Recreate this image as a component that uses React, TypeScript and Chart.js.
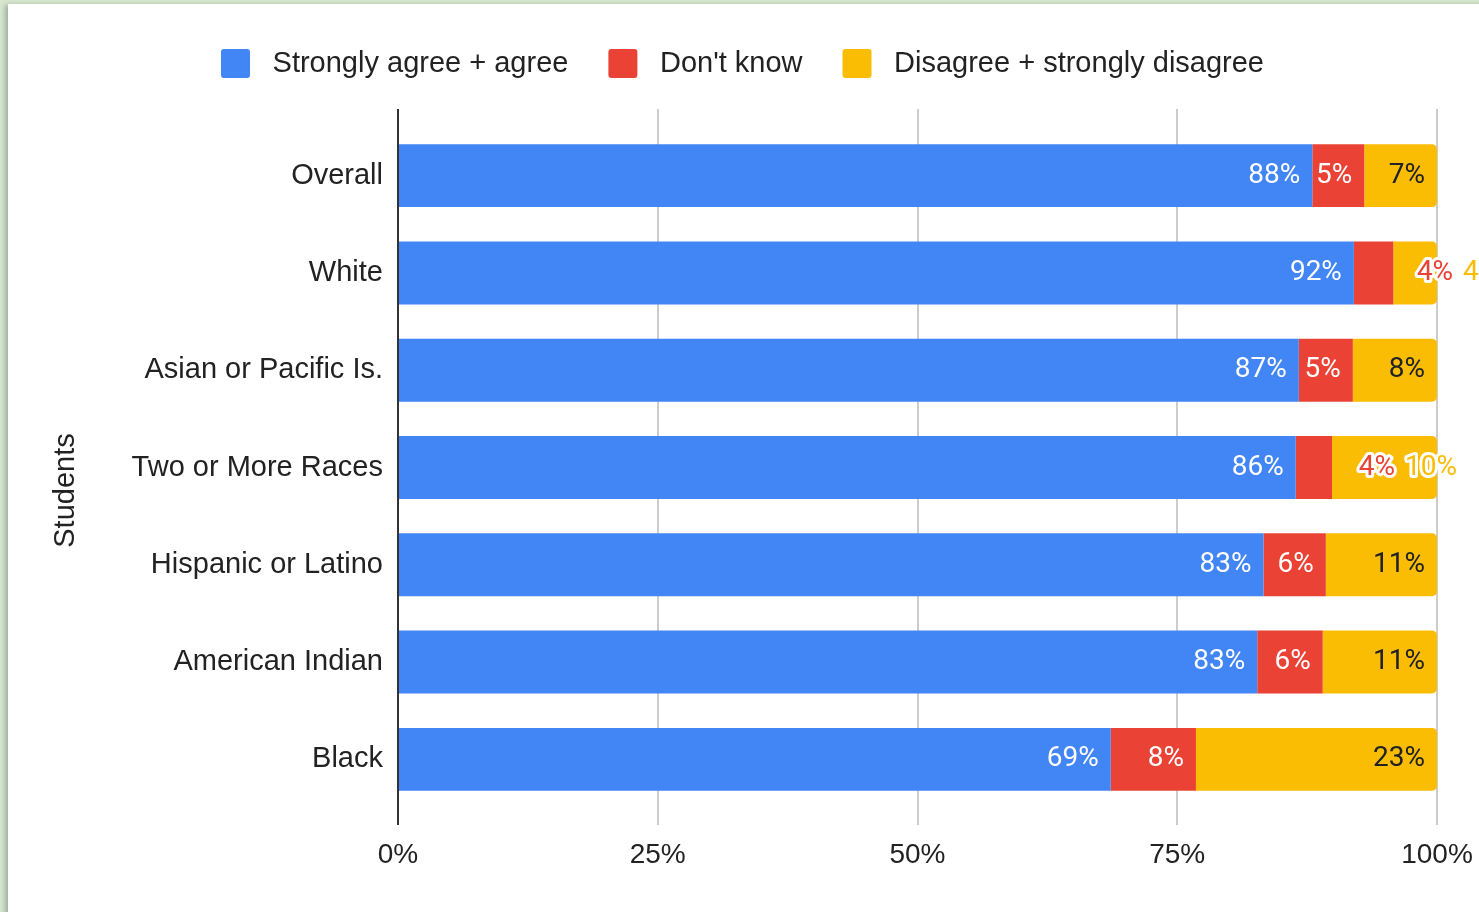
import React, { useEffect, useRef } from 'react';
import { Chart, registerables } from 'chart.js';

Chart.register(...registerables);

const categories = [
  'Overall',
  'White',
  'Asian or Pacific Is.',
  'Two or More Races',
  'Hispanic or Latino',
  'American Indian',
  'Black',
];
const agree = [88, 92, 86.7, 86.4, 83.3, 82.7, 68.6];
const dontKnow = [5, 3.8, 5.2, 3.5, 6.0, 6.3, 8.2];
const disagree = [7, 4.2, 8.1, 10.1, 10.7, 11.0, 23.2];
const seriesNames = ['Strongly agree + agree', "Don't know", 'Disagree + strongly disagree'];
const seriesColors = ['#4285f4', '#ea4335', '#fbbc04'];
const xTicks = [0, 25, 50, 75, 100];
const axisTitle = 'Students';

const AXIS_FONT = '"Liberation Sans", Arial, sans-serif';

const gridPlugin = {
  id: 'gridExt',
  beforeDatasetsDraw(chart: any) {
    const { ctx, chartArea, scales } = chart;
    const xs = scales.x;
    ctx.save();
    ctx.strokeStyle = '#cccccc';
    ctx.lineWidth = 2;
    xTicks.forEach((v) => {
      if (v === 0) return;
      const x = Math.round(xs.getPixelForValue(v));
      ctx.beginPath();
      ctx.moveTo(x, chartArea.top - 18);
      ctx.lineTo(x, chartArea.bottom + 17);
      ctx.stroke();
    });
    ctx.restore();
  },
  afterDatasetsDraw(chart: any) {
    const { ctx, chartArea, scales } = chart;
    const x0 = Math.round(scales.x.getPixelForValue(xTicks[0]));
    ctx.save();
    ctx.strokeStyle = '#333333';
    ctx.lineWidth = 2;
    ctx.beginPath();
    ctx.moveTo(x0, chartArea.top - 18);
    ctx.lineTo(x0, chartArea.bottom + 17);
    ctx.stroke();
    // y axis title
    ctx.translate(58, (chartArea.top + chartArea.bottom) / 2 + 23);
    ctx.rotate(-Math.PI / 2);
    ctx.font = '29px ' + AXIS_FONT;
    ctx.fillStyle = '#222222';
    ctx.textAlign = 'center';
    ctx.textBaseline = 'middle';
    ctx.fillText(axisTitle, 0, 0);
    ctx.restore();
  },
};

const labelPlugin = {
  id: 'segLabels',
  afterDatasetsDraw(chart: any) {
    const ctx = chart.ctx;
    ctx.save();
    ctx.font = '28px Roboto';
    ctx.textBaseline = 'middle';
    const metas = chart.data.datasets.map((_: any, d: number) => chart.getDatasetMeta(d));
    categories.forEach((_, i) => {
      const segs = metas.map((m: any, d: number) => {
        const el: any = m.data[i];
        const v = chart.data.datasets[d].data[i] as number;
        const text = Math.round(v) + '%';
        const w = ctx.measureText(text).width;
        return {
          text,
          w,
          left: Math.min(el.x, el.base),
          right: Math.max(el.x, el.base),
          y: el.y,
        };
      });
      let overflow = -1;
      segs.forEach((s: any, d: number) => {
        if (overflow < 0 && s.w + 10 > s.right - s.left) overflow = d;
      });
      segs.forEach((s: any, d: number) => {
        if (overflow >= 0 && d >= overflow) return;
        ctx.fillStyle = d === 2 ? '#202124' : '#ffffff';
        ctx.textAlign = 'right';
        ctx.fillText(s.text, s.right - 12, s.y);
      });
      if (overflow >= 0) {
        let x = segs[overflow].left + 63;
        ctx.textAlign = 'left';
        ctx.lineJoin = 'round';
        ctx.lineWidth = 6;
        ctx.strokeStyle = '#ffffff';
        for (let d = overflow; d < segs.length; d++) {
          ctx.strokeText(segs[d].text, x, segs[d].y);
          ctx.fillStyle = seriesColors[d];
          ctx.fillText(segs[d].text, x, segs[d].y);
          x += segs[d].w + 10;
        }
      }
    });
    ctx.restore();
  },
};

const legendGapPlugin = {
  id: 'legendGap',
  afterInit(chart: any) {
    const lg = chart.legend;
    if (lg && !lg.__patched) {
      const orig = lg.fit.bind(lg);
      lg.fit = function () {
        orig();
        this.height += 39;
      };
      lg.__patched = true;
    }
  },
};

export default function App() {
  const ref = useRef<HTMLCanvasElement | null>(null);

  useEffect(() => {
    if (!ref.current) return;
    Chart.defaults.font.family = AXIS_FONT;
    const series = [agree, dontKnow, disagree];
    const chart = new Chart(ref.current, {
      type: 'bar',
      data: {
        labels: categories,
        datasets: series.map((data, d) => ({
          label: seriesNames[d],
          data,
          backgroundColor: seriesColors[d],
          borderWidth: 0,
          borderRadius: d === 2 ? 5 : 0,
          barPercentage: 0.647,
          categoryPercentage: 1,
        })),
      },
      options: {
        animation: false,
        responsive: false,
        indexAxis: 'y',
        layout: { padding: { top: 5, left: 40, right: 42, bottom: 0 } },
        scales: {
          x: {
            stacked: true,
            min: 0,
            max: 100,
            grid: { display: false, drawTicks: false },
            border: { display: false },
            afterBuildTicks: (s: any) => {
              s.ticks = xTicks.map((v) => ({ value: v }));
            },
            ticks: {
              callback: (v: any) => v + '%',
              font: { size: 28, family: AXIS_FONT },
              color: '#222222',
              padding: 30,
              maxRotation: 0,
            },
            afterFit: (s: any) => {
              s.height = 104;
              s.paddingLeft = 0;
              s.paddingRight = 0;
            },
          },
          y: {
            stacked: true,
            grid: { display: false, drawTicks: false },
            border: { display: false },
            ticks: {
              font: { size: 29, family: AXIS_FONT },
              color: '#222222',
              padding: 15,
            },
            title: { display: false },
            afterFit: (s: any) => {
              s.width = 350;
              s.paddingTop = 0;
              s.paddingBottom = 0;
            },
          },
        },
        plugins: {
          tooltip: { enabled: false },
          legend: {
            position: 'top',
            labels: {
              boxWidth: 29,
              boxHeight: 29,
              padding: 40,
              useBorderRadius: true,
              borderRadius: 3,
              color: '#222222',
              font: { size: 29, family: AXIS_FONT },
              generateLabels: (c: any) =>
                Chart.defaults.plugins.legend.labels
                  .generateLabels(c)
                  .map((l: any) => ({ ...l, text: ' ' + l.text, lineWidth: 0 })),
            },
          },
        },
      },
      plugins: [legendGapPlugin, gridPlugin, labelPlugin],
    } as any);
    return () => chart.destroy();
  }, []);

  return (
    <div style={{ position: 'fixed', inset: 0, background: '#d6e7cf', overflow: 'hidden' }}>
      <div
        style={{
          position: 'absolute',
          left: 8,
          top: 4,
          width: 1490,
          height: 930,
          background: '#ffffff',
          boxShadow: '-3px 1px 5px rgba(0,0,0,0.25)',
        }}
      >
        <canvas ref={ref} width={1471} height={908} style={{ display: 'block' }} />
      </div>
    </div>
  );
}
